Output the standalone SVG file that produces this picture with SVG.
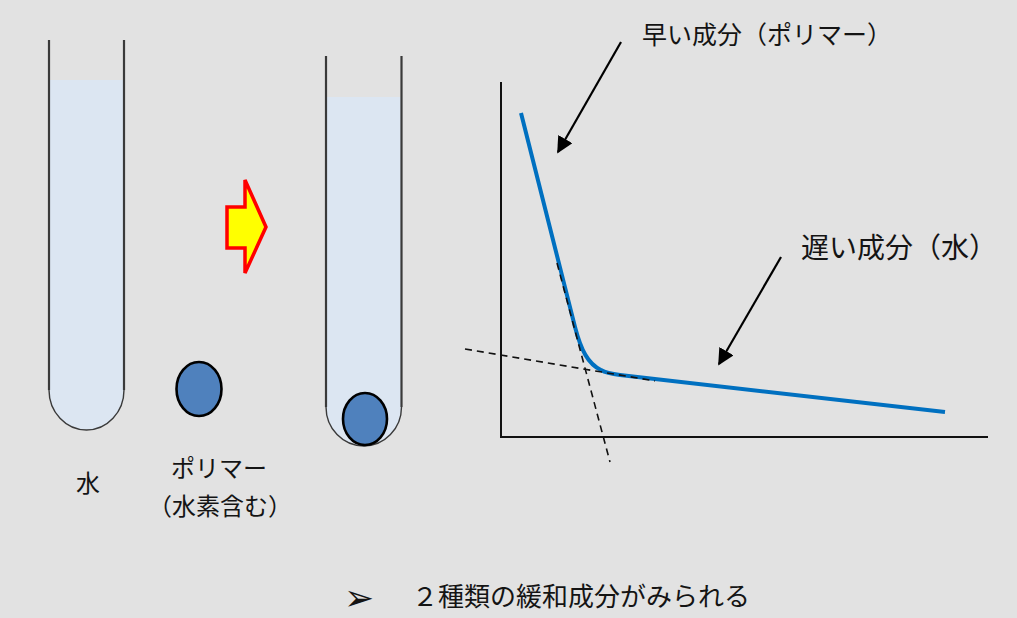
<svg xmlns="http://www.w3.org/2000/svg" width="1017" height="618" viewBox="0 0 1017 618">
  <style>
    .bg { fill: #e2e2e2; }
    .water { fill: #dce6f2; }
    .wall { fill: none; stroke: #3a3a3a; stroke-width: 2.2; }
    .bottom { fill: none; stroke: #3a3a3a; stroke-width: 1.4; }
    .ball { fill: #4f81bd; stroke: #000; stroke-width: 2.6; }
    .lbl { font-family: "Noto Sans CJK JP", "Noto Sans", sans-serif; fill: #141414; }
    .axis { fill: none; stroke: #111; stroke-width: 2; }
    .curve { fill: none; stroke: #0070c0; stroke-width: 4; stroke-linejoin: round; }
    .guide { fill: none; stroke: #111; stroke-width: 1.6; stroke-dasharray: 7 5; }
    .ptr { fill: none; stroke: #000; stroke-width: 2.2; }
  </style>
  <defs>
    <marker id="head" viewBox="0 0 10 10" refX="9" refY="5" markerWidth="7.5" markerHeight="7.5" markerUnits="strokeWidth" orient="auto">
      <path d="M0,0 L10,5 L0,10 z" fill="#000"/>
    </marker>
  </defs>

  <rect class="bg" x="0" y="0" width="1017" height="618"/>

  <!-- test tube holding water only -->
  <g id="tube-water">
    <path class="water" d="M49,80 H124 V390 A37.5,40 0 0 1 49,390 Z"/>
    <path class="bottom" d="M49,390 A37.5,40 0 0 0 124,390"/>
    <path class="wall" d="M49,40 V390 M124,40 V390"/>
    <text class="lbl" x="88" y="492" font-size="24" text-anchor="middle">水</text>
  </g>

  <!-- polymer particle -->
  <g id="polymer">
    <ellipse class="ball" cx="199" cy="389" rx="22.5" ry="27"/>
    <text class="lbl" x="219" y="477" font-size="24" text-anchor="middle">ポリマー</text>
    <text class="lbl" x="220" y="515" font-size="24" text-anchor="middle">（水素含む）</text>
  </g>

  <!-- block arrow: mixing -->
  <g id="mix-arrow">
    <path d="M227,207 H245 V180 L266,227 L245,273 V248 H227 Z" fill="#ffff00" stroke="#ff0000" stroke-width="3.5" stroke-linejoin="miter"/>
  </g>

  <!-- test tube with polymer in water -->
  <g id="tube-mixed">
    <path class="water" d="M326,97 H401.5 V407 A37.75,39 0 0 1 326,407 Z"/>
    <path class="bottom" d="M326,407 A37.75,39 0 0 0 401.5,407"/>
    <path class="wall" d="M326,56 V407 M401.5,56 V407"/>
    <ellipse class="ball" cx="365" cy="419" rx="22" ry="26"/>
  </g>

  <!-- relaxation plot: axes, decay curve, tangent guides on top -->
  <g id="plot">
    <path class="axis" d="M501,82 V437 H988"/>
    <path class="curve" d="M521,113 L575,327 C581,350 588,364 601,370 C606,373 612,374 620,375 L945,412"/>
    <path class="guide" d="M557,263 L610,462"/>
    <path class="guide" d="M465,349 L655,381"/>
  </g>

  <!-- component labels -->
  <g id="label-fast">
    <text class="lbl" x="642" y="44" font-size="25">早い成分（ポリマー）</text>
  </g>
  <g id="label-slow">
    <text class="lbl" x="801" y="258" font-size="28">遅い成分（水）</text>
  </g>

  <!-- pointers from labels to the curve -->
  <g id="connectors">
    <line class="ptr" x1="621" y1="42" x2="558" y2="152" marker-end="url(#head)"/>
    <line class="ptr" x1="781" y1="257" x2="719" y2="364" marker-end="url(#head)"/>
  </g>

  <!-- summary line -->
  <g id="summary">
    <text x="344" y="610" font-size="36" font-family="DejaVu Sans, sans-serif" fill="#141414">➢</text>
    <text class="lbl" x="412" y="606" font-size="26">２種類の緩和成分がみられる</text>
  </g>
</svg>
